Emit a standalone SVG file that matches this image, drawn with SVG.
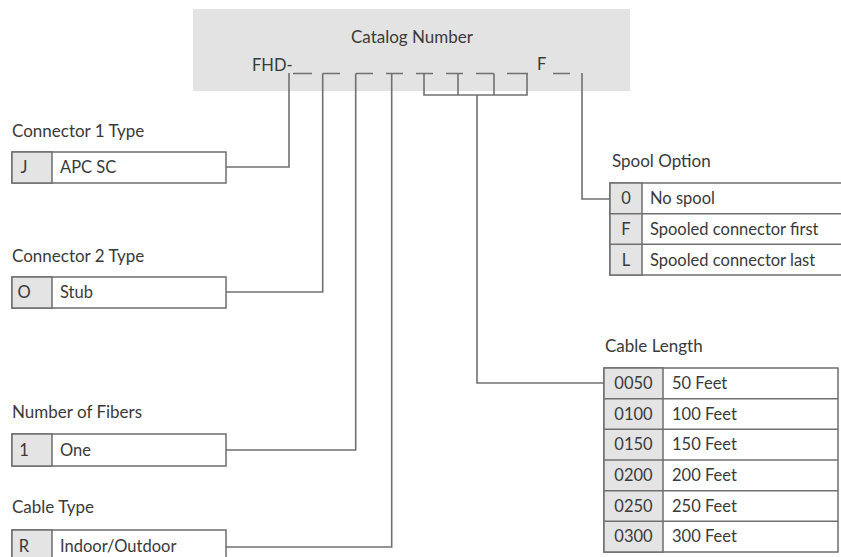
<svg xmlns="http://www.w3.org/2000/svg" width="841" height="557" viewBox="0 0 841 557">
<style>
text{font-family:Lato,"Liberation Sans",sans-serif;fill:#3a3a3a}
.t{font-size:17px}
.c{font-size:16.5px}
.cc{font-size:16.5px;text-anchor:middle}
.box{fill:#fff;stroke:#6e6e6e;stroke-width:1.5}
.code{fill:#e4e4e4;stroke:#6e6e6e;stroke-width:1.5}
.ln{fill:none;stroke:#707070;stroke-width:1.6}
</style>
<rect x="0" y="0" width="841" height="557" fill="#fff"/>
<g id="catalog">
<rect x="193" y="9" width="437" height="82" fill="#e3e3e3"/>
<text class="t" x="412" y="43" text-anchor="middle">Catalog Number</text>
<text class="c" x="252" y="71">FHD-</text>
<text class="c" x="537" y="70">F</text>
</g>
<g id="connectors">
<path class="ln" d="M293 73.5H312 M322.7 73.5H340 M355.7 73.5H373 M386 73.5H403 M416 73.5H433 M446 73.5H463 M476 73.5H494 M507 73.5H528 M553 73.5H570"/>
<path class="ln" d="M289 73V167H226"/>
<path class="ln" d="M322.7 73.5V292H226"/>
<path class="ln" d="M355.7 73.5V450H226"/>
<path class="ln" d="M391.7 73.5V547H226"/>
<path class="ln" d="M424 73.5V95H527V73.5 M458 73.5V95 M494 73.5V95 M477 95V383H604"/>
<path class="ln" d="M582 73V199H610"/>
</g>
<g id="connector1">
<text class="t" x="12" y="137">Connector 1 Type</text>
<rect class="box" x="12" y="152" width="214" height="31"/>
<rect class="code" x="12" y="152" width="40" height="31"/>
<text class="cc" x="24" y="173">J</text>
<text class="c" x="60" y="173">APC SC</text>
</g>
<g id="connector2">
<text class="t" x="12" y="262">Connector 2 Type</text>
<rect class="box" x="12" y="277" width="214" height="31"/>
<rect class="code" x="12" y="277" width="40" height="31"/>
<text class="cc" x="24" y="298">O</text>
<text class="c" x="60" y="298">Stub</text>
</g>
<g id="fibers">
<text class="t" x="12" y="418">Number of Fibers</text>
<rect class="box" x="12" y="434" width="214" height="32"/>
<rect class="code" x="12" y="434" width="40" height="32"/>
<text class="cc" x="24" y="456">1</text>
<text class="c" x="60" y="456">One</text>
</g>
<g id="cabletype">
<text class="t" x="12" y="513">Cable Type</text>
<rect class="box" x="12" y="530" width="214" height="32"/>
<rect class="code" x="12" y="530" width="40" height="32"/>
<text class="cc" x="24" y="552">R</text>
<text class="c" x="60" y="552">Indoor/Outdoor</text>
</g>
<g id="spool">
<text class="t" x="612" y="167">Spool Option</text>
<rect class="box" x="610" y="183" width="234" height="92"/>
<rect class="code" x="610" y="183" width="32" height="92"/>
<path class="ln" d="M610 213.7H844 M610 244.3H844" stroke="#6e6e6e"/>
<text class="cc" x="626" y="204">0</text>
<text class="c" x="650" y="204">No spool</text>
<text class="cc" x="626" y="235">F</text>
<text class="c" x="650" y="235">Spooled connector first</text>
<text class="cc" x="626" y="266">L</text>
<text class="c" x="650" y="266">Spooled connector last</text>
</g>
<g id="cablelength">
<text class="t" x="605" y="352">Cable Length</text>
<rect class="box" x="604" y="368" width="234" height="184"/>
<rect class="code" x="604" y="368" width="59" height="184"/>
<path class="ln" d="M604 398.7H838 M604 429.3H838 M604 460H838 M604 490.7H838 M604 521.3H838"/>
<text class="cc" x="633.5" y="389">0050</text>
<text class="c" x="672" y="389">50 Feet</text>
<text class="cc" x="633.5" y="420">0100</text>
<text class="c" x="672" y="420">100 Feet</text>
<text class="cc" x="633.5" y="450">0150</text>
<text class="c" x="672" y="450">150 Feet</text>
<text class="cc" x="633.5" y="481">0200</text>
<text class="c" x="672" y="481">200 Feet</text>
<text class="cc" x="633.5" y="512">0250</text>
<text class="c" x="672" y="512">250 Feet</text>
<text class="cc" x="633.5" y="542">0300</text>
<text class="c" x="672" y="542">300 Feet</text>
</g>
</svg>
